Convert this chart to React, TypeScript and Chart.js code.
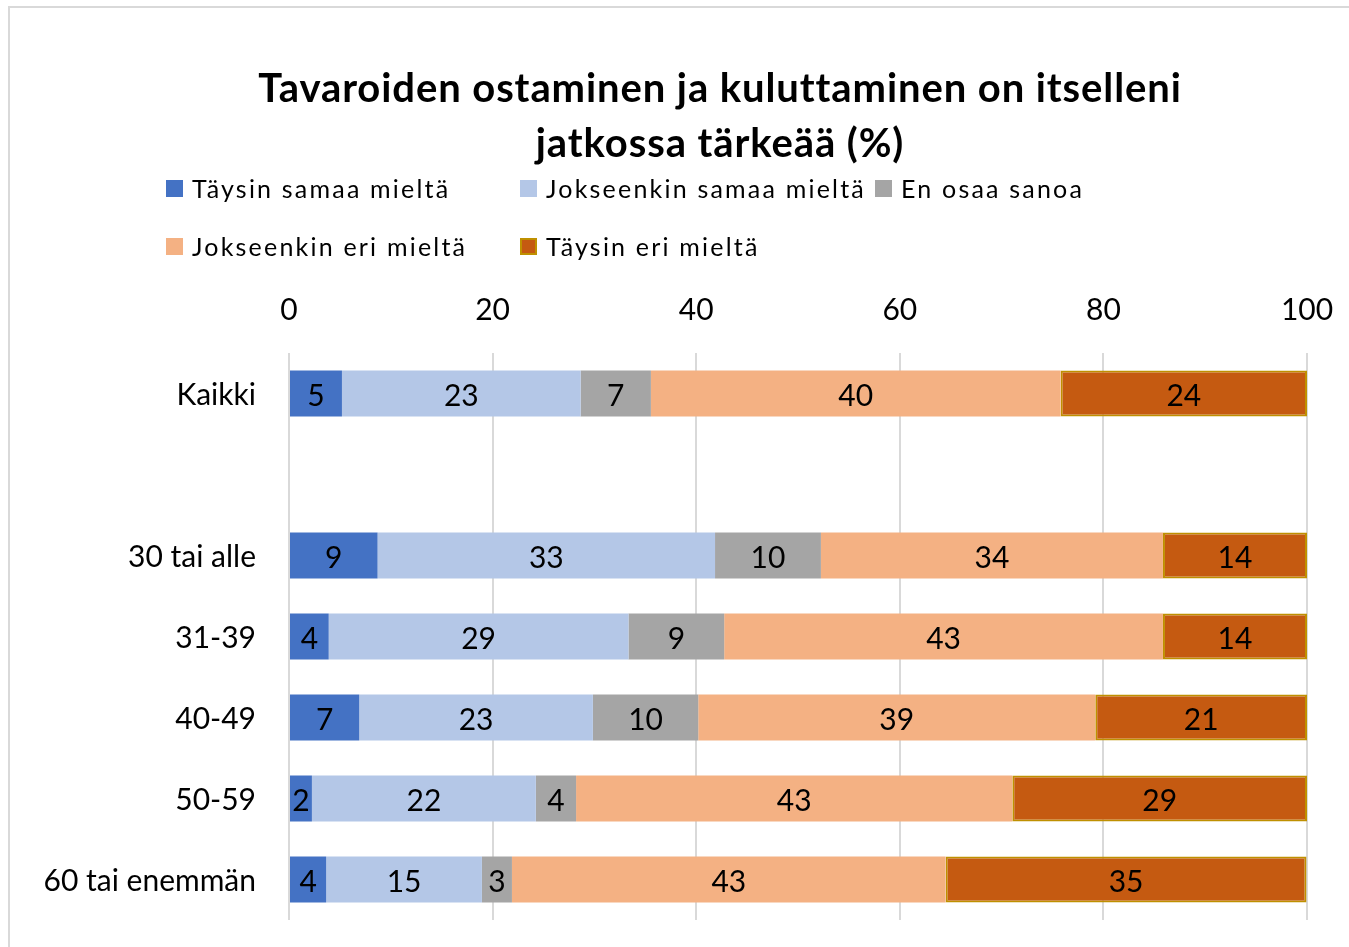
import React, { useEffect, useRef } from "react";
import { Chart, registerables } from "chart.js";

Chart.register(...registerables);

const titleLines = ["Tavaroiden ostaminen ja kuluttaminen on itselleni", "jatkossa tärkeää (%)"];
const categories = ["Kaikki", "", "30 tai alle", "31-39", "40-49", "50-59", "60 tai enemmän"];
const seriesNames = ["Täysin samaa mieltä", "Jokseenkin samaa mieltä", "En osaa sanoa", "Jokseenkin eri mieltä", "Täysin eri mieltä"];
const taysinSamaa = [5.2, null, 8.7, 3.9, 6.9, 2.25, 3.65];
const jokseenkinSamaa = [23.45, null, 33.15, 29.45, 22.95, 22.0, 15.3];
const enOsaa = [6.9, null, 10.4, 9.4, 10.35, 3.95, 2.95];
const jokseenkinEri = [40.25, null, 33.6, 43.1, 39.0, 42.85, 42.6];
const taysinEri = [24.2, null, 14.15, 14.15, 20.8, 28.95, 35.45];
const xTicks = [0, 20, 40, 60, 80, 100];

const colors = ["#4472C4", "#B4C7E7", "#A5A5A5", "#F4B183", "#C55A11"];
const borders = ["#4472C4", "#B4C7E7", "#A5A5A5", "#F4B183", "#BF9000"];
const FONT = "Lato, 'Noto Sans', sans-serif";

const decorPlugin = {
  id: "decor",
  beforeDraw(chart: any) {
    const ctx = chart.ctx;
    ctx.save();
    ctx.strokeStyle = "#d9d9d9";
    ctx.lineWidth = 2;
    ctx.beginPath();
    ctx.moveTo(9, 947);
    ctx.lineTo(9, 7);
    ctx.lineTo(1349, 7);
    ctx.stroke();
    // title
    ctx.fillStyle = "#000";
    ctx.font = `bold 40px ${FONT}`;
    ctx.textAlign = "center";
    ctx.textBaseline = "alphabetic";
    (ctx as any).letterSpacing = "0.9px";
    ctx.fillText(titleLines[0], 720, 102);
    ctx.fillText(titleLines[1], 720, 157);
    // legend
    (ctx as any).letterSpacing = "2.2px";
    ctx.font = `25px ${FONT}`;
    ctx.textAlign = "left";
    const pos = [
      [166, 180],
      [520, 180],
      [875, 180],
      [166, 238],
      [520, 238],
    ];
    seriesNames.forEach((name, i) => {
      const [bx, by] = pos[i];
      ctx.fillStyle = colors[i];
      ctx.fillRect(bx, by, 17, 17);
      if (i === 4) {
        ctx.strokeStyle = borders[4];
        ctx.lineWidth = 2;
        ctx.strokeRect(bx + 1, by + 1, 15, 15);
      }
      ctx.fillStyle = "#000";
      ctx.fillText(name, bx + 26, by + 18);
    });
    ctx.restore();
  },
  afterDatasetsDraw(chart: any) {
    const ctx = chart.ctx;
    ctx.save();
    ctx.font = `30px ${FONT}`;
    ctx.fillStyle = "#000";
    ctx.textAlign = "center";
    ctx.textBaseline = "middle";
    chart.data.datasets.forEach((ds: any, di: number) => {
      const meta = chart.getDatasetMeta(di);
      meta.data.forEach((el: any, i: number) => {
        const v = ds.data[i];
        if (v == null) return;
        const cx = (el.x + el.base) / 2;
        ctx.fillText(String(Math.round(v)), cx, el.y + 3);
      });
    });
    ctx.restore();
  },
};

export default function App() {
  const ref = useRef<HTMLCanvasElement | null>(null);
  useEffect(() => {
    document.body.style.overflow = "hidden";
    const series = [taysinSamaa, jokseenkinSamaa, enOsaa, jokseenkinEri, taysinEri];
    const chart = new Chart(ref.current as HTMLCanvasElement, {
      type: "bar",
      data: {
        labels: categories,
        datasets: series.map((d, i) => ({
          label: seriesNames[i],
          data: d,
          backgroundColor: colors[i],
          borderColor: borders[i],
          borderWidth: i === 4 ? 2 : 0,
          borderSkipped: false,
          barPercentage: 0.57,
          categoryPercentage: 1,
        })),
      },
      options: {
        indexAxis: "y",
        animation: false,
        responsive: false,
        maintainAspectRatio: false,
        layout: { padding: { top: 280, bottom: 27, left: 0, right: 42 } },
        plugins: {
          legend: { display: false },
          title: { display: false },
          tooltip: { enabled: false },
        },
        scales: {
          x: {
            type: "linear",
            position: "top",
            stacked: true,
            min: 0,
            max: 100,
            afterBuildTicks: (scale: any) => {
              scale.ticks = xTicks.map((v) => ({ value: v }));
            },
            afterFit: (scale: any) => {
              scale.height = 73;
              scale.paddingLeft = 0;
              scale.paddingRight = 0;
            },
            grid: { color: "#d9d9d9", lineWidth: 2, drawTicks: false },
            border: { display: false },
            ticks: {
              color: "#000",
              padding: 25,
              font: { family: FONT, size: 30 },
              maxRotation: 0,
            },
          },
          y: {
            stacked: true,
            afterFit: (scale: any) => {
              scale.width = 289;
              scale.paddingTop = 0;
              scale.paddingBottom = 0;
            },
            grid: { display: false, drawTicks: false },
            border: { display: false },
            ticks: {
              color: "#000",
              padding: 33,
              labelOffset: 2,
              font: { family: FONT, size: 30 },
            },
          },
        },
      },
      plugins: [decorPlugin],
    } as any);
    return () => chart.destroy();
  }, []);
  return (
    <div style={{ position: "fixed", left: 0, top: 0, width: 1349, height: 947, background: "#fff" }}>
      <canvas ref={ref} width={1349} height={947} style={{ width: 1349, height: 947, display: "block" }} />
    </div>
  );
}
